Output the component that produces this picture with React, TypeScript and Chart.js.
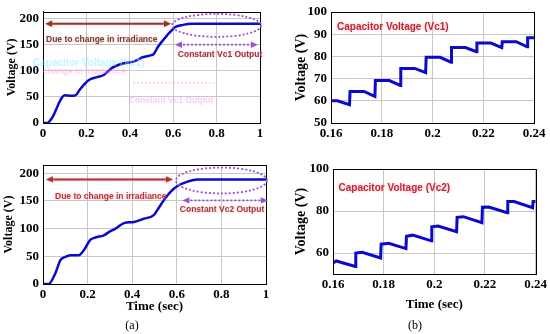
import React, { useEffect, useRef } from "react";
import { Chart, registerables } from "chart.js";
Chart.register(...registerables);
Chart.defaults.font.family = "Liberation Serif";
Chart.defaults.font.weight = "bold" as any;
Chart.defaults.font.size = 13;
Chart.defaults.color = "#000";

// ---------- data ----------
const leftXTicks = [0, 0.2, 0.4, 0.6, 0.8, 1];
const leftYTicks = [0, 50, 100, 150, 200];
const rightXTicks = [0.16, 0.18, 0.2, 0.22, 0.24];
const vc1ZoomYTicks = [50, 60, 70, 80, 90, 100];
const vc2ZoomYTicks = [60, 80, 100];

const timeVc1 = [0, 0.02, 0.028, 0.049, 0.07, 0.086, 0.1, 0.125, 0.15, 0.17, 0.19, 0.21, 0.25, 0.28, 0.32, 0.36, 0.42, 0.46, 0.5, 0.51, 0.53, 0.57, 0.61, 0.645, 0.685, 0.72, 1];
const voltVc1 = [0, 0, 2, 15, 35, 48, 53, 52, 53, 64, 74, 82, 88, 92, 106, 113, 118, 126, 130, 132, 146, 167, 184, 188, 190, 190, 190];

const timeVc2 = [0, 0.025, 0.055, 0.078, 0.1, 0.123, 0.16, 0.183, 0.213, 0.235, 0.273, 0.3, 0.325, 0.363, 0.408, 0.453, 0.498, 0.513, 0.543, 0.573, 0.603, 0.648, 0.693, 0.72, 1];
const voltVc2 = [0, 0, 19, 43, 49, 52, 52, 61, 80, 84, 88, 95, 100, 110, 112, 118, 125, 134, 152, 167, 177, 185, 189, 189, 189];

const timeVc1Zoom = [0.16, 0.1625, 0.1673, 0.1675, 0.173, 0.1773, 0.1775, 0.183, 0.1873, 0.1875, 0.193, 0.1973, 0.1975, 0.203, 0.2073, 0.2075, 0.213, 0.2173, 0.2175, 0.223, 0.2273, 0.2275, 0.233, 0.2373, 0.2375, 0.24];
const voltVc1Zoom = [60, 60, 58.2, 64.2, 64.2, 62, 69.1, 69.1, 66.9, 74.6, 74.6, 72.7, 79.6, 79.6, 77.4, 84, 84, 82.1, 86, 86, 84, 86.6, 86.6, 84.3, 88.4, 88.4];

const timeVc2Zoom = [0.16, 0.1613, 0.1688, 0.169, 0.1715, 0.1788, 0.179, 0.182, 0.1888, 0.189, 0.1915, 0.1988, 0.199, 0.2015, 0.2088, 0.209, 0.2115, 0.2188, 0.219, 0.2215, 0.2288, 0.229, 0.2315, 0.2388, 0.239, 0.24];
const voltVc2Zoom = [55.2, 56.2, 53.6, 60, 60.3, 57.6, 64.2, 64.6, 62.1, 68, 68.5, 65.8, 72.5, 72.8, 70.1, 77, 77.3, 74.4, 81.8, 81.9, 79.2, 84.5, 84.5, 81.6, 84.5, 84.5];

// ---------- helpers ----------
const SERIF = "Liberation Serif";
const SANS = "'Liberation Sans', Arial, sans-serif";
const LINE = "#0a0acd";
const GRID = "#c8c8c8";

type Item = any;

function arrowHead(ctx: CanvasRenderingContext2D, x: number, y: number, dir: number, len: number, hw: number) {
  ctx.beginPath();
  ctx.moveTo(x, y);
  ctx.lineTo(x - dir * len, y - hw);
  ctx.lineTo(x - dir * len, y + hw);
  ctx.closePath();
  ctx.fill();
}

function makeAnnot(items: Item[]) {
  return {
    id: "annot",
    afterDatasetsDraw(chart: any) {
      const { ctx, chartArea: a, scales } = chart;
      const xs = scales.x, ys = scales.y;
      ctx.save();
      ctx.strokeStyle = "#000";
      ctx.lineWidth = 1;
      ctx.strokeRect(Math.round(a.left) + 0.5, Math.round(a.top) + 0.5, Math.round(a.right - a.left), Math.round(a.bottom - a.top));
      ctx.restore();
      for (const it of items) {
        ctx.save();
        if (it.glow) {
          ctx.shadowColor = it.glow;
          ctx.shadowBlur = 3;
        }
        if (it.type === "arrow") {
          const x1 = xs.getPixelForValue(it.x1), x2 = xs.getPixelForValue(it.x2), y = ys.getPixelForValue(it.y);
          ctx.strokeStyle = it.color;
          ctx.fillStyle = it.color;
          ctx.lineWidth = it.width;
          if (it.dash) ctx.setLineDash(it.dash);
          ctx.beginPath();
          ctx.moveTo(x1 + 4, y);
          ctx.lineTo(x2 - 4, y);
          ctx.stroke();
          ctx.setLineDash([]);
          arrowHead(ctx, x1, y, -1, 7, 3.2);
          arrowHead(ctx, x2, y, 1, 7, 3.2);
        } else if (it.type === "ellipse") {
          const cx = xs.getPixelForValue(it.cx), cy = ys.getPixelForValue(it.cy);
          const rx = Math.abs(xs.getPixelForValue(it.cx + it.rx) - cx);
          const ry = Math.abs(ys.getPixelForValue(it.cy + it.ry) - cy);
          ctx.strokeStyle = it.color;
          ctx.lineWidth = it.width;
          ctx.setLineDash(it.dash);
          ctx.beginPath();
          ctx.ellipse(cx, cy, rx, ry, 0, 0, Math.PI * 2);
          ctx.stroke();
        } else if (it.type === "dline") {
          const x1 = xs.getPixelForValue(it.x1), x2 = xs.getPixelForValue(it.x2), y = ys.getPixelForValue(it.y);
          ctx.strokeStyle = it.color;
          ctx.lineWidth = it.width;
          ctx.setLineDash(it.dash);
          ctx.beginPath();
          ctx.moveTo(x1, y);
          ctx.lineTo(x2, y);
          ctx.stroke();
        } else if (it.type === "text") {
          const x = xs.getPixelForValue(it.x), y = ys.getPixelForValue(it.y);
          ctx.font = it.font;
          ctx.fillStyle = it.color;
          ctx.textAlign = it.align || "left";
          ctx.textBaseline = "middle";
          ctx.fillText(it.text, x, y);
        }
        ctx.restore();
      }
    },
  };
}

function buildConfig(p: any) {
  const pts = p.xs.map((x: number, i: number) => ({ x, y: p.ys[i] }));
  return {
    type: "line" as const,
    data: {
      datasets: [
        {
          data: pts,
          borderColor: LINE,
          borderWidth: p.lineWidth,
          pointRadius: 0,
          fill: false,
          cubicInterpolationMode: p.smooth ? ("monotone" as const) : ("default" as const),
          tension: 0,
          borderJoinStyle: "miter" as const,
        },
      ],
    },
    options: {
      responsive: false,
      animation: false as const,
      events: [],
      layout: { padding: p.pad },
      plugins: { legend: { display: false }, tooltip: { enabled: false } },
      scales: {
        x: {
          type: "linear" as const,
          min: p.xMin,
          max: p.xMax,
          afterBuildTicks: (s: any) => {
            s.ticks = p.xTicks.map((v: number) => ({ value: v }));
          },
          afterFit: (s: any) => {
            s.height = p.xH;
          },
          ticks: { font: { family: SERIF, weight: "bold", size: p.tickSize }, color: "#000", padding: 3, maxRotation: 0, autoSkip: false, callback: (v: any) => String(v) },
          grid: { color: GRID, drawTicks: false },
          border: { color: "#000" },
          title: p.xTitle
            ? { display: true, text: p.xTitle, color: "#000", font: { family: SERIF, weight: "bold", size: 13 }, padding: { top: 0, bottom: p.xTitlePad } }
            : { display: false },
        },
        y: {
          type: "linear" as const,
          min: p.yMin,
          max: p.yMax,
          afterBuildTicks: (s: any) => {
            s.ticks = p.yTicks.map((v: number) => ({ value: v }));
          },
          afterFit: (s: any) => {
            s.width = p.yW;
          },
          ticks: { font: { family: SERIF, weight: "bold", size: p.tickSize }, color: "#000", padding: 4, callback: (v: any) => String(v) },
          grid: { color: GRID, drawTicks: false },
          border: { color: "#000" },
          title: { display: true, text: "Voltage (V)", color: "#000", font: { family: SERIF, weight: "bold", size: p.yTitleSize }, padding: { top: p.yTitlePad, bottom: 0 } },
        },
      },
    },
    plugins: [makeAnnot(p.items)],
  };
}

const ANN = "bold 8.5px " + SANS;
const GLOW = "rgba(255,120,200,0.55)";
const PURPLE = "#9b4fd8";

const panels = [
  {
    left: 0, top: 0, width: 275, height: 150,
    cfg: {
      xs: timeVc1, ys: voltVc1, smooth: true, lineWidth: 2.5, tickSize: 13,
      xMin: 0, xMax: 1, xTicks: leftXTicks, yMin: 0, yMax: 213, yTicks: leftYTicks,
      pad: { top: 7, right: 15, bottom: 0, left: 0 }, yW: 43, xH: 27, yTitleSize: 12, yTitlePad: 5,
      items: [
        { type: "text", x: -0.046, y: 115, text: "Capacitor Voltage (Vc1)", font: "bold 10px " + SANS, color: "rgba(150,235,250,0.55)" },
        { type: "text", x: 0, y: 99, text: "change in irradiance", font: ANN, color: "rgba(255,160,225,0.5)" },
        { type: "dline", x1: 0.415, x2: 0.79, y: 77, color: "rgba(255,150,225,0.5)", width: 1.5, dash: [2, 2] },
        { type: "text", x: 0.59, y: 42, text: "Constant Vc1 Output", font: ANN, color: "rgba(255,150,230,0.5)", align: "center" },
        { type: "arrow", x1: 0.01, x2: 0.59, y: 190, color: "#8e3a1f", width: 2, glow: GLOW },
        { type: "text", x: 0.014, y: 159, text: "Due to change in irradiance", font: ANN, color: "#74461f", glow: GLOW },
        { type: "ellipse", cx: 0.8, cy: 187, rx: 0.205, ry: 22, color: PURPLE, width: 1.8, dash: [2, 2] },
        { type: "arrow", x1: 0.608, x2: 0.99, y: 150, color: PURPLE, width: 1.8, dash: [2, 2] },
        { type: "text", x: 0.816, y: 130, text: "Constant Vc1 Output", font: ANN, color: "#963a28", align: "center", glow: GLOW },
      ],
    },
  },
  {
    left: 275, top: 0, width: 275, height: 150,
    cfg: {
      xs: timeVc1Zoom, ys: voltVc1Zoom, smooth: false, lineWidth: 3, tickSize: 13,
      xMin: 0.16, xMax: 0.24, xTicks: rightXTicks, yMin: 50, yMax: 100, yTicks: vc1ZoomYTicks,
      pad: { top: 12, right: 16, bottom: 0, left: 0 }, yW: 56, xH: 27, yTitleSize: 14, yTitlePad: 18,
      items: [
        { type: "text", x: 0.1624, y: 93.2, text: "Capacitor Voltage (Vc1)", font: "bold 10px " + SANS, color: "#c22a26", glow: GLOW },
      ],
    },
  },
  {
    left: 0, top: 150, width: 275, height: 184,
    cfg: {
      xs: timeVc2, ys: voltVc2, smooth: true, lineWidth: 2.5, tickSize: 13,
      xMin: 0, xMax: 1, xTicks: leftXTicks, yMin: 0, yMax: 215, yTicks: leftYTicks,
      pad: { top: 15, right: 9, bottom: 0, left: 0 }, yW: 43, xH: 50, yTitleSize: 12, yTitlePad: 2,
      xTitle: "Time (sec)", xTitlePad: 20,
      items: [
        { type: "arrow", x1: 0.013, x2: 0.583, y: 189, color: "#a83a24", width: 2, glow: GLOW },
        { type: "text", x: 0.054, y: 158.5, text: "Due to change in irradiance", font: ANN, color: "#bc3327", glow: GLOW },
        { type: "ellipse", cx: 0.8, cy: 187, rx: 0.204, ry: 23.4, color: PURPLE, width: 1.8, dash: [2, 2] },
        { type: "arrow", x1: 0.625, x2: 1.008, y: 151, color: PURPLE, width: 1.8, dash: [2, 2] },
        { type: "text", x: 0.803, y: 135, text: "Constant Vc2 Output", font: ANN, color: "#a23c2b", align: "center", glow: GLOW },
      ],
    },
  },
  {
    left: 275, top: 150, width: 275, height: 184,
    cfg: {
      xs: timeVc2Zoom, ys: voltVc2Zoom, smooth: false, lineWidth: 3, tickSize: 13,
      xMin: 0.16, xMax: 0.24, xTicks: rightXTicks, yMin: 50, yMax: 100, yTicks: vc2ZoomYTicks,
      pad: { top: 19, right: 13, bottom: 0, left: 0 }, yW: 58, xH: 60, yTitleSize: 14, yTitlePad: 18,
      xTitle: "Time (sec)", xTitlePad: 22,
      items: [
        { type: "text", x: 0.1622, y: 91, text: "Capacitor Voltage (Vc2)", font: "bold 10px " + SANS, color: "#c22a26", glow: GLOW },
      ],
    },
  },
];

function Panel(props: any) {
  const ref = useRef<HTMLCanvasElement | null>(null);
  useEffect(() => {
    if (!ref.current) return;
    const chart = new Chart(ref.current, buildConfig(props.cfg) as any);
    return () => chart.destroy();
  }, []);
  return (
    <div style={{ position: "absolute", left: props.left, top: props.top, width: props.width, height: props.height }}>
      <canvas ref={ref} width={props.width} height={props.height} style={{ width: props.width, height: props.height, display: "block" }} />
    </div>
  );
}

export default function App() {
  const cap: React.CSSProperties = { position: "absolute", fontFamily: "'Liberation Serif', serif", fontSize: 12, color: "#000", transform: "translate(-50%, -50%)", whiteSpace: "nowrap" };
  return (
    <div style={{ position: "fixed", left: 0, top: 0, width: 550, height: 334, background: "#fff", overflow: "hidden" }}>
      {panels.map((p, i) => (
        <Panel key={i} {...p} />
      ))}
      <span style={{ ...cap, left: 132, top: 325 }}>(a)</span>
      <span style={{ ...cap, left: 415, top: 325 }}>(b)</span>
    </div>
  );
}
